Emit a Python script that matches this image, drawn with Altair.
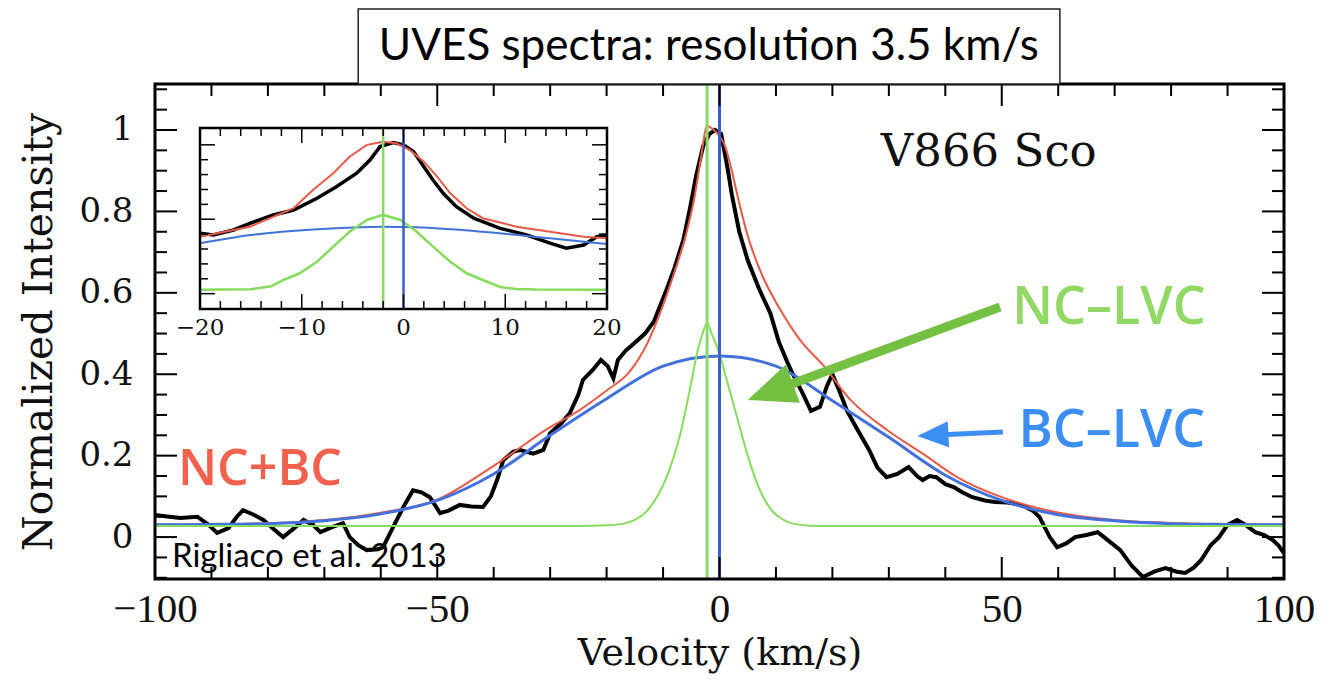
import altair as alt
import pandas as pd

# ---------------- data ----------------
black_v = [-100, -97.5, -95.5, -92.5, -90.5, -89, -87, -85.5, -84.4, -82.5, -80.8, -79, -77.3, -75.5,
           -73.7, -72, -70.7, -68.5, -66.7, -65.5, -64, -62.5, -60.5, -59.6, -57.8, -56, -54.3, -52.8,
           -51.3, -49.5, -48, -46, -44, -41.9, -40.5, -39.4, -38.3, -36.5, -35.3, -33, -31.2, -30, -28,
           -26.5, -25, -24.2, -22.5, -21, -19.8, -18.8, -18, -16.5, -15.6, -13.2, -11.6, -9.6, -8, -6.4,
           -5.2, -4.1, -2.9, -1.8, -0.8, 0.3, 1.5, 2.2, 3.5, 5, 7, 9, 10.5, 12, 13, 14.5, 16.2, 17.8, 19,
           20, 21.2, 22.6, 24.2, 26.5, 28, 29.6, 31.5, 33.5, 35, 36, 37.2, 38.4, 40, 41.5, 43, 44.8, 47,
           48.8, 51, 53.5, 55.5, 56.7, 58.5, 59.8, 61.5, 63, 65, 67, 69, 71, 73, 75, 77, 79, 81, 82.5, 84,
           85.3, 87, 88.5, 90, 91.7, 93.2, 94.9, 96.5, 98, 99, 100]
black_i = [0.054, 0.05, 0.047, 0.05, 0.03, 0.010, 0.022, 0.05, 0.066, 0.055, 0.042, 0.02, 0.0, 0.02,
           0.042, 0.03, 0.012, 0.025, 0.034, 0.0, -0.02, -0.032, -0.03, -0.025, 0.025, 0.074, 0.115, 0.11,
           0.098, 0.059, 0.065, 0.079, 0.075, 0.074, 0.10, 0.14, 0.189, 0.21, 0.214, 0.205, 0.214, 0.255, 0.28,
           0.305, 0.35, 0.386, 0.41, 0.435, 0.42, 0.39, 0.435, 0.46, 0.47, 0.50, 0.53, 0.60, 0.66, 0.73,
           0.81, 0.89, 0.96, 0.99, 1.0, 0.99, 0.90, 0.84, 0.75, 0.68, 0.61, 0.55, 0.48, 0.43, 0.40, 0.36, 0.31, 0.32, 0.37,
           0.40, 0.36, 0.31, 0.27, 0.214, 0.17, 0.147, 0.155, 0.172, 0.15, 0.14, 0.15, 0.147, 0.13, 0.123, 0.11, 0.098, 0.09,
           0.086, 0.085, 0.079, 0.065, 0.049, 0.0, -0.025, -0.015, 0.0, 0.005, 0.012, -0.01, -0.032, -0.07, -0.098, -0.085, -0.076, -0.085, -0.088, -0.075,
           -0.057, -0.02, 0.0, 0.03, 0.042, 0.03, 0.012, 0.005, -0.007, -0.02, -0.04]

red_v = [-100, -80, -70, -60, -50, -40, -30, -25, -20, -16, -13, -10, -8, -6, -4.5, -3.3, -2.2, -1, 0, 1, 2,
         3.5, 5, 7.5, 10.5, 14.5, 18.5, 23, 30, 36, 42, 50, 58, 70, 82, 100]
red_i = [0.03, 0.034, 0.042, 0.06, 0.092, 0.175, 0.27, 0.31, 0.36, 0.405, 0.47, 0.57, 0.65, 0.74, 0.83, 0.93,
         1.01, 1.0, 0.985, 0.96, 0.91, 0.82, 0.74, 0.645, 0.565, 0.48, 0.42, 0.34, 0.26, 0.205, 0.148, 0.098,
         0.066, 0.042, 0.034, 0.03]

blue_v = [-100, -90, -80, -70, -60, -50, -40, -30, -20, -10, 0, 10, 20, 30, 40, 50, 60, 70, 80, 90, 100]
blue_i = [0.03, 0.031, 0.033, 0.04, 0.057, 0.09, 0.155, 0.25, 0.34, 0.42, 0.445, 0.42, 0.335, 0.245, 0.152,
          0.09, 0.055, 0.04, 0.033, 0.031, 0.03]

green_v = [-100, -25, -20, -17, -15, -13, -11, -9, -7, -5, -4, -3, -2.2, -1.4, 0, 1, 3, 5, 7, 9, 11, 13, 16,
           20, 100]
green_i = [0.027, 0.027, 0.029, 0.033, 0.042, 0.062, 0.10, 0.16, 0.25, 0.38, 0.45, 0.50, 0.525, 0.50, 0.45,
           0.40, 0.30, 0.20, 0.12, 0.07, 0.045, 0.033, 0.028, 0.027, 0.027]

nc_centre = [-2.2]
bc_centre = [0.0]

inset_black_v = [-20, -18.7, -16.7, -15.1, -12.8, -10.8, -8.5, -6.6, -4.6, -3.3, -2.3, -1.0, 0.0, 1.0, 2.0,
                 2.9, 3.9, 5.2, 6.9, 9.5, 12.1, 14.4, 16.0, 17.7, 19.0, 20]
inset_black_i = [0.406, 0.394, 0.428, 0.473, 0.529, 0.562, 0.641, 0.719, 0.809, 0.898, 0.988, 1.015, 1.0,
                 0.954, 0.853, 0.764, 0.674, 0.584, 0.507, 0.439, 0.394, 0.339, 0.305, 0.327, 0.383, 0.394]
inset_red_v = [-20, -15.1, -10.8, -8.9, -6.9, -5.3, -3.6, -2.0, -0.7, 0.6, 2.0, 3.3, 4.6, 6.2, 7.8, 11.1,
               14.4, 17.7, 20]
inset_red_i = [0.383, 0.45, 0.574, 0.697, 0.809, 0.92, 1.0, 1.021, 1.01, 0.966, 0.887, 0.786, 0.674, 0.574,
               0.507, 0.45, 0.416, 0.383, 0.372]
inset_blue_v = [-20, -15, -8.5, -2, 1.3, 7.8, 14.4, 20]
inset_blue_i = [0.339, 0.394, 0.433, 0.45, 0.446, 0.416, 0.372, 0.334]
inset_green_v = [-20, -15, -13, -11.8, -10.2, -8.5, -6.9, -5.3, -3.6, -2.0, -0.3, 1.3, 2.9, 4.6, 6.2, 7.8,
                 9.5, 11.1, 13, 20]
inset_green_i = [0.027, 0.03, 0.05, 0.092, 0.137, 0.215, 0.316, 0.416, 0.495, 0.529, 0.495, 0.416, 0.316,
                 0.215, 0.137, 0.092, 0.045, 0.032, 0.028, 0.027]
inset_nc_centre = [-2.0]
inset_bc_centre = [0.0]

x_major = [-100, -50, 0, 50, 100]
x_minor = [-90, -80, -70, -60, -40, -30, -20, -10, 10, 20, 30, 40, 60, 70, 80, 90]
y_major = [0, 0.2, 0.4, 0.6, 0.8, 1.0]
y_minor = [-0.1, -0.05, 0.05, 0.1, 0.15, 0.25, 0.3, 0.35, 0.45, 0.5, 0.55, 0.65, 0.7, 0.75, 0.85, 0.9,
           0.95, 1.05, 1.1]
inset_x_major = [-20, -10, 0, 10, 20]
inset_x_minor = [-18, -16, -14, -12, -8, -6, -4, -2, 2, 4, 6, 8, 12, 14, 16, 18]
inset_y_major = [0, 0.5, 1.0]
inset_y_minor = [0.1, 0.2, 0.3, 0.4, 0.6, 0.7, 0.8, 0.9]

# ---------------- layout / style ----------------
W, H = 1129, 495
X_DOM = [-100, 100]
Y_DOM = [-0.103, 1.113]
IN_X_RANGE = [45, 452]
IN_Y_RANGE = [225, 44]
MAJ, MIN = 22, 12
IN_MAJ, IN_MIN = 15, 8

RED = "#e85a48"
BLUE = "#4271dc"
GREEN = "#86dc5c"
VGREEN = "#8ad86a"
VBLUE = "#3a5fcc"

xs = alt.Scale(domain=X_DOM, range=[0, W], nice=False, zero=False)
ys = alt.Scale(domain=Y_DOM, range=[H, 0], nice=False, zero=False)
ixs = alt.Scale(domain=[-20, 20], range=IN_X_RANGE, nice=False, zero=False)
iys = alt.Scale(domain=Y_DOM, range=IN_Y_RANGE, nice=False, zero=False)


def df(v, i):
    return pd.DataFrame({"v": v, "i": i})


def mx(field="v"):
    return alt.X(f"{field}:Q", scale=xs, axis=None)


def my(field="i"):
    return alt.Y(f"{field}:Q", scale=ys, axis=None)


def ix(field="v"):
    return alt.X(f"{field}:Q", scale=ixs, axis=None)


def iy(field="i"):
    return alt.Y(f"{field}:Q", scale=iys, axis=None)


# axes carrier (labels/titles only)
axes_layer = alt.Chart(df([-100, 100], [0, 1])).mark_point(opacity=0).encode(
    x=alt.X("v:Q", scale=xs, axis=alt.Axis(
        values=x_major, ticks=False, domain=False, grid=False, format="d",
        labelFont="Liberation Serif", labelFontSize=41, labelColor="#111", labelPadding=10,
        labelFlush=False, labelOverlap=False,
        title="Velocity (km/s)", titleFont="DejaVu Serif", titleFontSize=38,
        titleFontWeight="normal", titleColor="#111", titlePadding=5)),
    y=alt.Y("i:Q", scale=ys, axis=alt.Axis(
        values=y_major, ticks=False, domain=False, grid=False, format="~g",
        labelFont="DejaVu Serif", labelFontSize=34, labelColor="#111", labelPadding=22,
        labelFlush=False, labelOverlap=False,
        title="Normalized Intensity", titleFont="DejaVu Serif", titleFontSize=41,
        titleFontWeight="normal", titleColor="#111", titlePadding=18)),
)

black = alt.Chart(df(black_v, black_i)).mark_line(color="black", strokeWidth=4, clip=True).encode(
    x=mx(), y=my(), order="v:Q")
red = alt.Chart(df(red_v, red_i)).mark_line(color=RED, strokeWidth=2, interpolate="monotone", clip=True).encode(
    x=mx(), y=my(), order="v:Q")
blue = alt.Chart(df(blue_v, blue_i)).mark_line(color=BLUE, strokeWidth=3, interpolate="monotone", clip=True).encode(
    x=mx(), y=my(), order="v:Q")
green = alt.Chart(df(green_v, green_i)).mark_line(color=GREEN, strokeWidth=2, interpolate="monotone", clip=True).encode(
    x=mx(), y=my(), order="v:Q")

vgreen = alt.Chart(pd.DataFrame({"v": nc_centre})).mark_rule(color=VGREEN, strokeWidth=3).encode(
    x=mx(), y=alt.value(0), y2=alt.value(H))
vblue = alt.Chart(pd.DataFrame({"v": bc_centre})).mark_rule(color=VBLUE, strokeWidth=3).encode(
    x=mx(), y=alt.value(0), y2=alt.value(H))

# frame of the main panel
frame = alt.Chart(pd.DataFrame({"v": [X_DOM[0]], "v2": [X_DOM[1]], "i": [Y_DOM[0]], "i2": [Y_DOM[1]]})).mark_rect(
    fillOpacity=0, stroke="black", strokeWidth=3).encode(x=mx("v"), x2="v2:Q", y=my("i"), y2="i2:Q")


def xticks(vals, ln):
    d = pd.DataFrame({"v": vals})
    b = alt.Chart(d).mark_rule(color="black", strokeWidth=2).encode(x=mx(), y=alt.value(H), y2=alt.value(H - ln))
    t = alt.Chart(d).mark_rule(color="black", strokeWidth=2).encode(x=mx(), y=alt.value(0), y2=alt.value(ln))
    return [b, t]


def yticks(vals, ln):
    d = pd.DataFrame({"i": vals})
    l = alt.Chart(d).mark_rule(color="black", strokeWidth=2).encode(y=my(), x=alt.value(0), x2=alt.value(ln))
    r = alt.Chart(d).mark_rule(color="black", strokeWidth=2).encode(y=my(), x=alt.value(W), x2=alt.value(W - ln))
    return [l, r]


ticks = xticks(x_major, MAJ) + xticks(x_minor, MIN) + yticks(y_major, MAJ) + yticks(y_minor, MIN)

# title box
box = alt.Chart(pd.DataFrame({"v": [-64.0], "v2": [60.3], "i": [1.297], "i2": [1.113]})).mark_rect(
    fill="white", stroke="#222", strokeWidth=1.5).encode(
    x=mx("v"), x2="v2:Q", y=my("i"), y2="i2:Q")

texts = pd.DataFrame({
    "v": [-1.9, 47.7, 69.0, 69.5, -81.4],
    "i": [1.204, 0.946, 0.563, 0.26, 0.165],
    "t": ["UVES spectra: resolution 3.5 km/s", "V866 Sco", "NC\u2013LVC", "BC\u2013LVC", "NC+BC"],
})


def label(row, font, size, color, weight="normal", align="center"):
    d = texts.iloc[[row]]
    return alt.Chart(d).mark_text(font=font, fontSize=size, color=color, fontWeight=weight,
                                  align=align, baseline="middle").encode(x=mx(), y=my(), text="t:N")


title_txt = label(0, "Lato", 44, "black")
v866 = label(1, "DejaVu Serif", 45, "#111")
nc_txt = label(2, "Open Sans", 52, "#92d866", 600)
bc_txt = label(3, "Open Sans", 52, "#3d8ef2", 600)
ncbc_txt = label(4, "Open Sans", 50, "#f2604e", 600)

cite = alt.Chart(pd.DataFrame({"v": [-97.0], "i": [-0.049], "t": ["Rigliaco et al. 2013"]})).mark_text(
    font="Lato", fontSize=33, color="black", align="left", baseline="middle").encode(x=mx(), y=my(), text="t:N")

# arrows (tail -> head centre)
arrow_green = pd.DataFrame({"v": [49.7], "i": [0.565], "v2": [10.0], "i2": [0.362]})
arrow_blue = pd.DataFrame({"v": [50.2], "i": [0.258], "v2": [38.5], "i2": [0.2506]})
head_path = "M0,-1L0.68,0.6L-0.68,0.6Z"
g_shaft = alt.Chart(arrow_green).mark_rule(color="#74c043", strokeWidth=9).encode(
    x=mx(), y=my(), x2="v2:Q", y2="i2:Q")
g_head = alt.Chart(arrow_green).mark_point(shape=head_path, filled=True, color="#74c043", opacity=1,
                                           size=3600, angle=250).encode(x=mx("v2"), y=my("i2"))
b_shaft = alt.Chart(arrow_blue).mark_rule(color="#3d8ef2", strokeWidth=5).encode(
    x=mx(), y=my(), x2="v2:Q", y2="i2:Q")
b_head = alt.Chart(arrow_blue).mark_point(shape=head_path, filled=True, color="#3d8ef2", opacity=1,
                                          size=1500, angle=267).encode(x=mx("v2"), y=my("i2"))

main_layers = [axes_layer, black, red, blue, green, vgreen, vblue, frame, *ticks, box, title_txt, v866,
               nc_txt, bc_txt, ncbc_txt, cite, g_shaft, g_head, b_shaft, b_head]

# ---------------- inset ----------------
in_frame_d = pd.DataFrame({"v": [-20], "v2": [20], "i": [Y_DOM[0]], "i2": [Y_DOM[1]]})
in_bg = alt.Chart(in_frame_d).mark_rect(fill="white").encode(x=ix("v"), x2="v2:Q", y=iy("i"), y2="i2:Q")
in_frame = alt.Chart(in_frame_d).mark_rect(fillOpacity=0, stroke="black", strokeWidth=2.5).encode(
    x=ix("v"), x2="v2:Q", y=iy("i"), y2="i2:Q")

in_black = alt.Chart(df(inset_black_v, inset_black_i)).mark_line(color="black", strokeWidth=3.5).encode(
    x=ix(), y=iy(), order="v:Q")
in_red = alt.Chart(df(inset_red_v, inset_red_i)).mark_line(color=RED, strokeWidth=2).encode(
    x=ix(), y=iy(), order="v:Q")
in_blue = alt.Chart(df(inset_blue_v, inset_blue_i)).mark_line(color=BLUE, strokeWidth=2, interpolate="monotone").encode(
    x=ix(), y=iy(), order="v:Q")
in_green = alt.Chart(df(inset_green_v, inset_green_i)).mark_line(color=GREEN, strokeWidth=2.5).encode(
    x=ix(), y=iy(), order="v:Q")
in_vg = alt.Chart(pd.DataFrame({"v": inset_nc_centre})).mark_rule(color=VGREEN, strokeWidth=2.5).encode(
    x=ix(), y=alt.value(IN_Y_RANGE[0]), y2=alt.value(IN_Y_RANGE[1]))
in_vb = alt.Chart(pd.DataFrame({"v": inset_bc_centre})).mark_rule(color=VBLUE, strokeWidth=2.5).encode(
    x=ix(), y=alt.value(IN_Y_RANGE[0]), y2=alt.value(IN_Y_RANGE[1]))


def in_xticks(vals, ln):
    d = pd.DataFrame({"v": vals})
    b = alt.Chart(d).mark_rule(color="black", strokeWidth=1.5).encode(
        x=ix(), y=alt.value(IN_Y_RANGE[0]), y2=alt.value(IN_Y_RANGE[0] - ln))
    t = alt.Chart(d).mark_rule(color="black", strokeWidth=1.5).encode(
        x=ix(), y=alt.value(IN_Y_RANGE[1]), y2=alt.value(IN_Y_RANGE[1] + ln))
    return [b, t]


def in_yticks(vals, ln):
    d = pd.DataFrame({"i": vals})
    l = alt.Chart(d).mark_rule(color="black", strokeWidth=1.5).encode(
        y=iy(), x=alt.value(IN_X_RANGE[0]), x2=alt.value(IN_X_RANGE[0] + ln))
    r = alt.Chart(d).mark_rule(color="black", strokeWidth=1.5).encode(
        y=iy(), x=alt.value(IN_X_RANGE[1]), x2=alt.value(IN_X_RANGE[1] - ln))
    return [l, r]


in_ticks = (in_xticks(inset_x_major, IN_MAJ) + in_xticks(inset_x_minor, IN_MIN)
            + in_yticks(inset_y_major, IN_MAJ) + in_yticks(inset_y_minor, IN_MIN))

in_labels = alt.Chart(pd.DataFrame({"v": inset_x_major, "i": [Y_DOM[0]] * len(inset_x_major)})).mark_text(
    font="DejaVu Serif", fontSize=23, color="#111", baseline="top", dy=8).encode(
    x=ix(), y=iy(), text=alt.Text("v:Q", format="d"))

inset_layers = [in_bg, in_black, in_red, in_blue, in_green, in_vg, in_vb, in_frame, *in_ticks, in_labels]

chart = alt.layer(*main_layers, *inset_layers).resolve_scale(x="independent", y="independent").properties(
    width=W, height=H, autosize="none", background="white",
    padding={"left": 147, "top": 76, "right": 32, "bottom": 100},
).configure_view(stroke=None)

chart.save("out.html", embed_options={"renderer": "svg", "actions": False})
